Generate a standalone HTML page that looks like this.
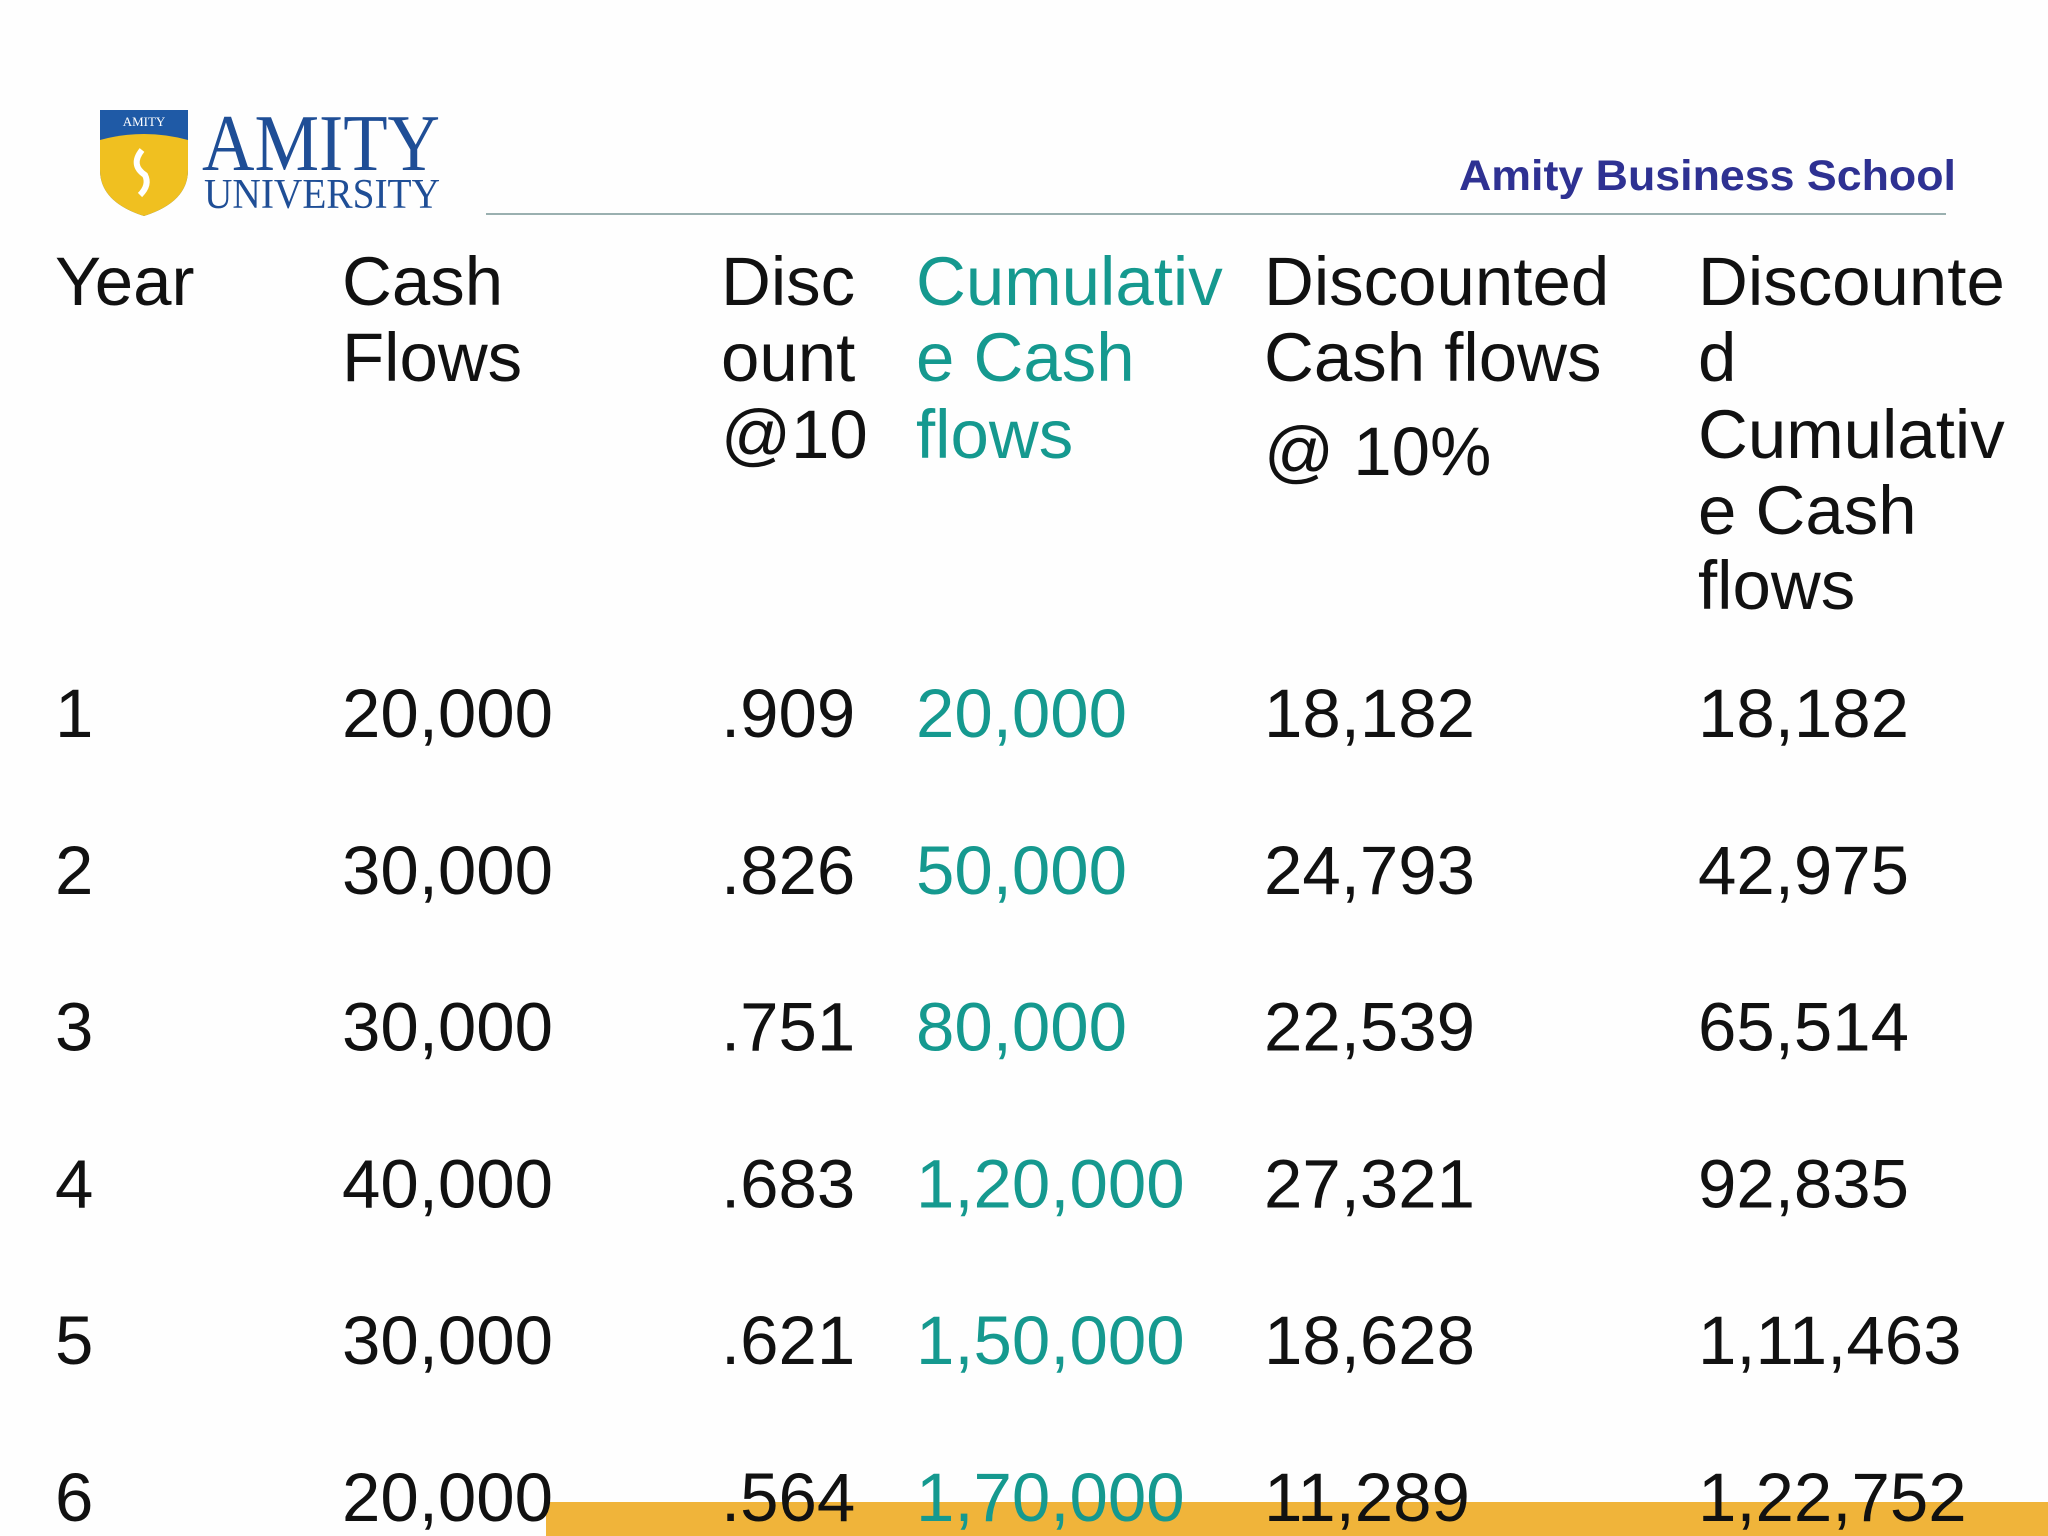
<!DOCTYPE html>
<html><head><meta charset="utf-8"><style>
html,body{margin:0;padding:0;background:#fff;}
svg{display:block;}
text{font-family:"Liberation Sans",Arial,sans-serif;}
</style></head><body>
<svg width="2048" height="1536" viewBox="0 0 2048 1536">
<rect width="2048" height="1536" fill="#fefefe"/>
<g>
 <path d="M100 110 L188 110 L188 170 Q188 202 144 216 Q100 202 100 170 Z" fill="#1f5aa6"/>
 <path d="M100 140 Q144 128 188 140 L188 170 Q188 202 144 216 Q100 202 100 170 Z" fill="#f0c020"/>
 <text x="144" y="126" font-size="13" fill="#fff" text-anchor="middle" style="font-family:'Liberation Serif',serif">AMITY</text>
 <path d="M142 150 Q130 165 145 175 Q150 185 140 195" stroke="#fff" stroke-width="6" fill="none"/>
 <text x="202" y="170" font-size="80" fill="#1f4e96" textLength="238" lengthAdjust="spacingAndGlyphs" style="font-family:'Liberation Serif',serif">AMITY</text>
 <text x="204" y="208" font-size="42" fill="#1f4e96" textLength="236" lengthAdjust="spacingAndGlyphs" style="font-family:'Liberation Serif',serif">UNIVERSITY</text>
</g>
<text x="1956" y="190" font-size="43" font-weight="bold" fill="#2e3192" text-anchor="end" textLength="497" lengthAdjust="spacingAndGlyphs">Amity Business School</text>
<line x1="486" y1="214" x2="1946" y2="214" stroke="#9ab0b0" stroke-width="2"/>
<rect x="546" y="1502" width="1502" height="34" fill="#f0b43a"/>
<g font-size="69" fill="#111">
 <text x="55" y="305">Year</text>
 <text><tspan x="342" y="305">Cash</tspan><tspan x="342" y="381">Flows</tspan></text>
 <text><tspan x="721" y="305">Disc</tspan><tspan x="721" y="381">ount</tspan><tspan x="721" y="458">@10</tspan></text>
 <text fill="#15998f"><tspan x="916" y="305">Cumulativ</tspan><tspan x="916" y="381">e Cash</tspan><tspan x="916" y="458">flows</tspan></text>
 <text><tspan x="1264" y="305">Discounted</tspan><tspan x="1264" y="381">Cash flows</tspan><tspan x="1264" y="475">@ 10%</tspan></text>
 <text><tspan x="1698" y="305">Discounte</tspan><tspan x="1698" y="381">d</tspan><tspan x="1698" y="458">Cumulativ</tspan><tspan x="1698" y="534">e Cash</tspan><tspan x="1698" y="609">flows</tspan></text>
</g>
<g id="rows" font-size="69"></g>
</svg>
<script>
const years=["1","2","3","4","5","6"];
const cashFlows=["20,000","30,000","30,000","40,000","30,000","20,000"];
const discounts=[".909",".826",".751",".683",".621",".564"];
const cumulative=["20,000","50,000","80,000","1,20,000","1,50,000","1,70,000"];
const discounted=["18,182","24,793","22,539","27,321","18,628","11,289"];
const discCumulative=["18,182","42,975","65,514","92,835","1,11,463","1,22,752"];
const cols=[[years,55,"#111"],[cashFlows,342,"#111"],[discounts,721,"#111"],[cumulative,916,"#15998f"],[discounted,1264,"#111"],[discCumulative,1698,"#111"]];
const names=["year","cash-flow","discount-factor","cumulative-cash-flow","discounted-cash-flow","discounted-cumulative"];
const g=document.getElementById('rows');
const NS="http://www.w3.org/2000/svg";
years.forEach((y,i)=>{
 const by=737+i*156.8;
 cols.forEach((c,j)=>{
  const t=document.createElementNS(NS,'text');
  t.setAttribute('x',c[1]);t.setAttribute('y',by);t.setAttribute('fill',c[2]);
  t.textContent=c[0][i];
  
  
  g.appendChild(t);
 });
});
</script>
</body></html>
